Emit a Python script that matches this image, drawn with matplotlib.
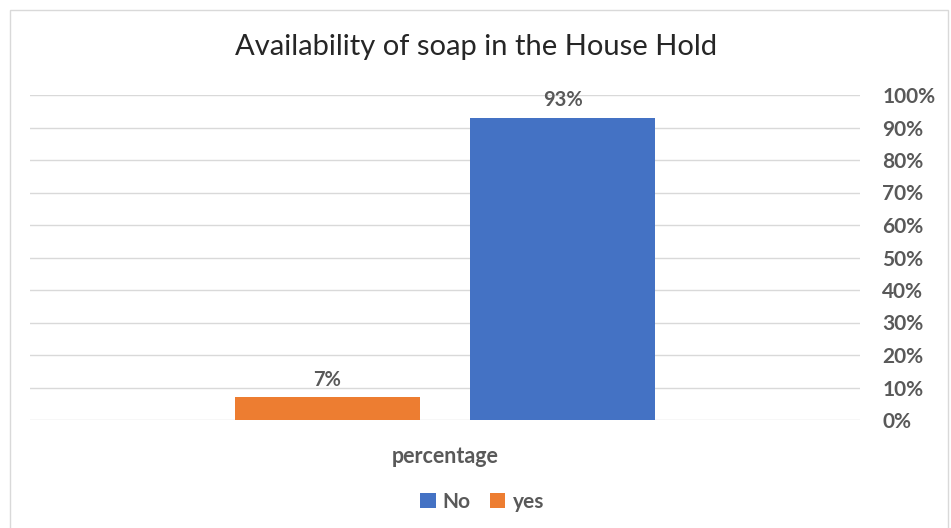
import matplotlib.pyplot as plt
from matplotlib.patches import Rectangle

plt.rcParams['font.family'] = ['Lato', 'DejaVu Sans']

category = 'percentage'
series = ['yes', 'No']
values = [7, 93]
colors = ['#ED7D31', '#4472C4']
yticks = [0, 10, 20, 30, 40, 50, 60, 70, 80, 90, 100]

text_grey = '#595959'
grid_grey = '#D9D9D9'

fig = plt.figure(figsize=(9.51, 5.28), dpi=100)
ax = fig.add_axes([30 / 951, 1 - 420 / 528, 830 / 951, 325 / 528])

# two series side by side inside the single category
offsets = [-0.142, 0.142]
width = 0.223
bars = {}
for name, val, col, off in zip(series, values, colors, offsets):
    b = ax.bar(off, val, width=width, color=col, label=name, zorder=3)
    bars[name] = b
    ax.text(off, val + 2.3, f'{val}%', ha='center', va='bottom',
            fontsize=14.5, fontweight='bold', color=text_grey)

ax.set_xlim(-0.5, 0.5)
ax.set_ylim(0, 100)
ax.set_xticks([0])
ax.set_xticklabels([category], fontsize=15.5, fontweight='bold', color=text_grey)
ax.tick_params(axis='x', length=0, pad=19)

ax.yaxis.tick_right()
ax.set_yticks(yticks)
ax.set_yticklabels([f'{t}%' for t in yticks], fontsize=15, fontweight='bold', color=text_grey)
ax.tick_params(axis='y', length=0, pad=16)
ax.grid(axis='y', color=grid_grey, linewidth=1, zorder=0)
for s in ax.spines.values():
    s.set_visible(False)

fig.text(476 / 951, 1 - 47 / 528, 'Availability of soap in the House Hold',
         ha='center', va='center', fontsize=21, color='#262626')

leg = fig.legend([bars['No'], bars['yes']], ['No', 'yes'], loc='center',
                 bbox_to_anchor=(482 / 951, 1 - 502 / 528), ncol=2, frameon=False,
                 handlelength=0.75, handleheight=0.75, handletextpad=0.35, columnspacing=0.9,
                 prop={'size': 15, 'weight': 'bold'})
for t in leg.get_texts():
    t.set_color(text_grey)

# chart area border
fig.patches.append(Rectangle((10 / 951, -0.01), 938 / 951, 1 - 10 / 528 + 0.01,
                             transform=fig.transFigure, fill=False,
                             edgecolor=grid_grey, linewidth=1))

fig.savefig('out.png', dpi=100)
